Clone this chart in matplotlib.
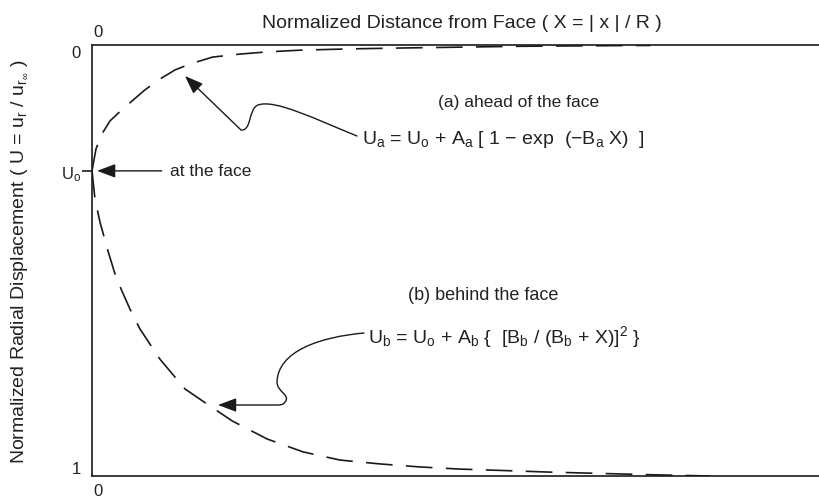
import numpy as np
import matplotlib.pyplot as plt
from matplotlib.path import Path
from matplotlib.patches import FancyArrowPatch

plt.rcParams['font.family'] = ['Liberation Sans', 'DejaVu Sans']
plt.rcParams['mathtext.fontset'] = 'custom'
plt.rcParams['mathtext.rm'] = 'Liberation Sans'
plt.rcParams['mathtext.it'] = 'Liberation Sans'
plt.rcParams['mathtext.bf'] = 'Liberation Sans'

W, H = 819, 502
INK = '#222222'

# displacement at the face
u_face = 0.292

# (a) ahead of the face
x_ahead = [0.0, 0.055, 0.138, 0.248, 0.426, 0.564, 0.729, 0.935, 1.14, 1.35,
           1.66, 2.04, 2.41, 2.86, 3.55, 4.24, 5.06, 5.89, 6.71, 7.68]
u_ahead = [0.292, 0.241, 0.206, 0.176, 0.148, 0.128, 0.104, 0.079, 0.058, 0.044,
           0.028, 0.021, 0.016, 0.012, 0.009, 0.007, 0.005, 0.003, 0.002, 0.001]

# (b) behind the face
x_behind = [0.0, 0.041, 0.110, 0.220, 0.316, 0.399, 0.523, 0.660, 0.935, 1.279,
            1.582, 1.926, 2.407, 2.902, 3.411, 3.961, 4.512, 5.062, 5.612, 6.300,
            6.988, 7.675, 8.501]
u_behind = [0.292, 0.357, 0.411, 0.478, 0.531, 0.566, 0.613, 0.659, 0.729, 0.798,
            0.833, 0.872, 0.914, 0.944, 0.963, 0.972, 0.979, 0.984, 0.987, 0.991,
            0.994, 0.997, 1.0]

y_ticks = [0, u_face, 1]
y_tick_labels = ['0', r'U$_o$', '1']

title = 'Normalized Distance from Face ( X = | x | / R )'
ylabel = r'Normalized Radial Displacement ( U = u$_r$ / u$_{r_\infty}$ )'
label_a = '(a) ahead of the face'
label_b = '(b) behind the face'
eq_a = r'U$_a$ = U$_o$ + A$_a$ [ 1 − exp  (−B$_a$ X)  ]'
eq_b = r'U$_b$ = U$_o$ + A$_b$ {  [B$_b$ / (B$_b$ + X)]$^2$ }'


def fxy(x, y):
    # pixel position -> figure fraction
    return x / W, 1 - y / H


fig = plt.figure(figsize=(W / 100, H / 100), dpi=100)
ax = fig.add_axes([92 / W, 1 - 477 / H, 1 - 92 / W, (477 - 46) / H])

dash = (0, (16, 8))
ax.plot(x_ahead, u_ahead, color='#1a1a1a', lw=1.2, linestyle=dash)
ax.plot(x_behind, u_behind, color='#1a1a1a', lw=1.2, linestyle=dash)

ax.set_xlim(0, 10)
ax.set_ylim(1, 0)

for side in ['left', 'top', 'bottom']:
    ax.spines[side].set_linewidth(1.2)
    ax.spines[side].set_color('#1a1a1a')
ax.spines['right'].set_visible(False)

# X = 0 marked above and below the frame
ax.set_xticks([])
xform = ax.get_xaxis_transform()
ax.annotate('0', xy=(0, 1), xycoords=xform, xytext=(1, 4),
            textcoords='offset points', ha='left', va='bottom',
            fontsize=12, color=INK)
ax.annotate('0', xy=(0, 0), xycoords=xform, xytext=(1, -5),
            textcoords='offset points', ha='left', va='top',
            fontsize=12, color=INK)

ax.set_yticks(y_ticks)
ax.set_yticklabels(y_tick_labels)
ax.tick_params(axis='y', length=7, width=1.2, color='#1a1a1a', labelsize=12,
               labelcolor=INK, pad=1)
yt = ax.yaxis.get_major_ticks()
yt[0].tick1line.set_visible(False)
yt[2].tick1line.set_visible(False)
yt[0].label1.set_va('top')
yt[2].label1.set_va('bottom')

fig.text(*fxy(462, 23), title, ha='center', va='center', fontsize=14, color=INK)
fig.text(*fxy(20, 262), ylabel, ha='center', va='center', rotation=90,
         fontsize=14, color=INK)

fig.text(*fxy(438, 103), label_a, ha='left', va='center', fontsize=12.5, color=INK)
fig.text(*fxy(362, 139), eq_a, ha='left', va='center', fontsize=14, color=INK)
fig.text(*fxy(408, 296), label_b, ha='left', va='center', fontsize=13, color=INK)
fig.text(*fxy(368, 337), eq_b, ha='left', va='center', fontsize=14, color=INK)

ax.annotate('at the face', xy=(0.07, u_face), xycoords='data',
            xytext=(fxy(170, 172)[0], u_face),
            textcoords=('figure fraction', 'data'),
            ha='left', va='center', fontsize=12.5, color=INK,
            arrowprops=dict(arrowstyle='-|>,head_length=0.8,head_width=0.3',
                            mutation_scale=14, color='#1a1a1a', lw=1.0,
                            shrinkA=4, shrinkB=0))

# curly leader lines from the equations to the curves
lead_a = [(357, 137), (315, 120), (275, 100), (258, 106),
          (248, 110), (252, 132), (241, 131), (185, 77)]
codes_a = [Path.MOVETO] + [Path.CURVE4] * 6 + [Path.LINETO]
lead_b = [(364, 334), (320, 338), (278, 352), (277, 383),
          (277, 393), (291, 396), (285, 403),
          (283, 406), (281, 406), (276, 406), (218, 406)]
codes_b = [Path.MOVETO] + [Path.CURVE4] * 9 + [Path.LINETO]

for pts, codes in [(lead_a, codes_a), (lead_b, codes_b)]:
    verts = np.array([fxy(x, y) for x, y in pts])
    arrow = FancyArrowPatch(path=Path(verts, codes),
                            arrowstyle='-|>,head_length=0.8,head_width=0.3',
                            mutation_scale=14, color='#1a1a1a', lw=1.0,
                            transform=fig.transFigure)
    fig.add_artist(arrow)

fig.savefig('out.png', dpi=100, facecolor='white')
